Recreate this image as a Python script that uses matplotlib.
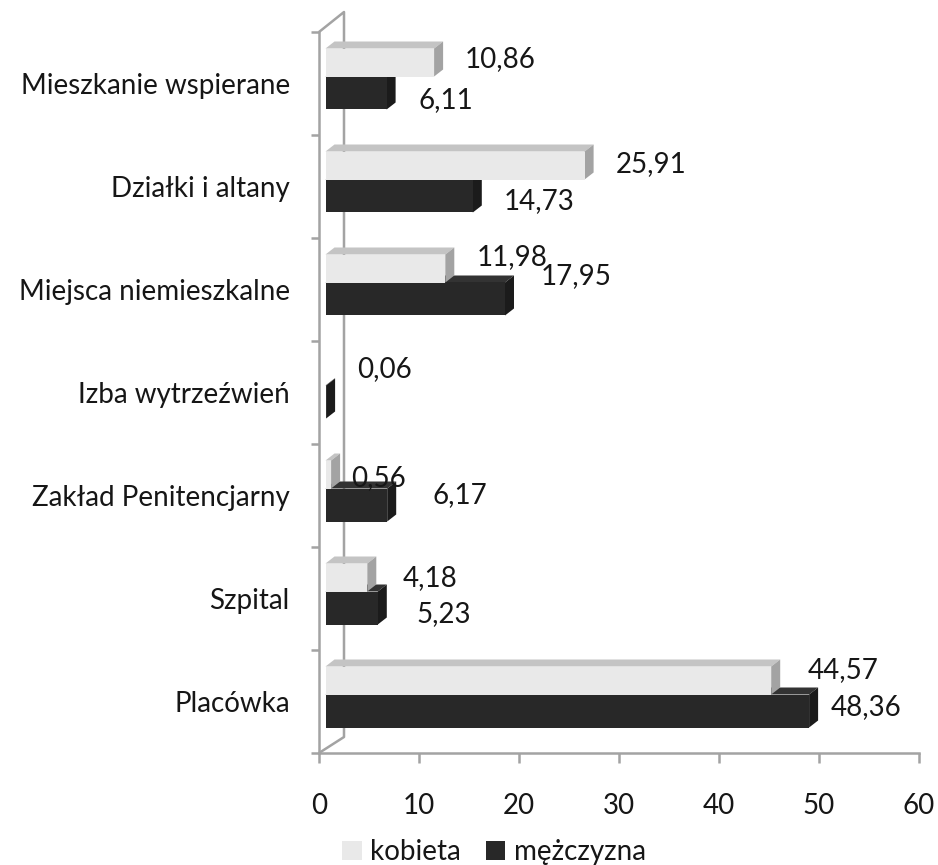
import numpy as np
import matplotlib
matplotlib.use("Agg")
import matplotlib.pyplot as plt
from matplotlib.patches import Polygon, Patch

plt.rcParams['font.family'] = ['Lato', 'DejaVu Sans']

# ---------------- data (bottom to top) ----------------
categories = ['Placówka', 'Szpital', 'Zakład Penitencjarny', 'Izba wytrzeźwień',
              'Miejsca niemieszkalne', 'Działki i altany', 'Mieszkanie wspierane']
kobieta = [44.57, 4.18, 0.56, None, 11.98, 25.91, 10.86]
mezczyzna = [48.36, 5.23, 6.17, 0.06, 17.95, 14.73, 6.11]
series_names = ['kobieta', 'mężczyzna']
x_ticks = [0, 10, 20, 30, 40, 50, 60]

# label nudges (pixels: right, up) relative to bar end, mimicking Excel placement
kob_label_off = [(36, 12), (35, 1.5), (20, -1.5), (0, 0), (31, 13.5), (31, 3), (31, 5)]
mez_label_off = [(22, 5.5), (39, -4), (45, 12), (31, 35), (36, 25), (31, -3), (32, -5.5)]

# ---------------- style ----------------
W, H = 938, 865
FS = 20
TXT = '#161616'
AX_C = '#a3a3a3'
light = dict(front='#e9e9e9', top='#c4c4c4', side='#a3a3a3')
dark = dict(front='#282828', top='#333333', side='#1b1b1b')

fig = plt.figure(figsize=(W / 100, H / 100), dpi=100)
ax = fig.add_axes([319 / W, (H - 753) / H, 600 / W, 721 / H])
ax.set_xlim(0, 60)
ax.set_ylim(0, len(categories))

px_x = 60 / 600.0                 # data units per pixel (x)
px_y = len(categories) / 721.0    # data units per pixel (y)

# 3D geometry (in pixels)
x0 = 6.5 * px_x            # bars start slightly inside the wall
grp_shift = 7 * px_y
h_light = 28 * px_y
h_dark = 33 * px_y
ddx, ddy = 9 * px_x, 7 * px_y

centers = np.arange(len(categories)) + 0.5
kob = np.array([np.nan if v is None else v for v in kobieta], dtype=float)
mez = np.array(mezczyzna, dtype=float)


def draw_3d(vals, ycent, height, cols, z):
    idx = np.where(np.isfinite(vals))[0]
    bars = ax.barh(ycent[idx], vals[idx], left=x0, height=height,
                   color=cols['front'], edgecolor='none', zorder=z + 0.2)
    for rect in bars:
        x, y, w, h = rect.get_x(), rect.get_y(), rect.get_width(), rect.get_height()
        top = Polygon([(x, y + h), (x + ddx, y + h + ddy), (x + w + ddx, y + h + ddy), (x + w, y + h)],
                      closed=True, facecolor=cols['top'], edgecolor='none', zorder=z)
        side = Polygon([(x + w, y), (x + w + ddx, y + ddy), (x + w + ddx, y + h + ddy), (x + w, y + h)],
                       closed=True, facecolor=cols['side'], edgecolor='none', zorder=z + 0.1)
        ax.add_patch(top)
        ax.add_patch(side)
    return idx


# dark series below light series in each group, drawn first
yc_dark = centers + grp_shift - h_dark / 2
yc_light = centers + grp_shift + h_light / 2
idx_m = draw_3d(mez, yc_dark, h_dark, dark, 2)
idx_k = draw_3d(kob, yc_light, h_light, light, 3)


def fmt(v):
    return f"{v:.2f}".replace('.', ',')


half_digit = 10
for i in idx_k:
    dx, dy = kob_label_off[i]
    ax.annotate(fmt(kob[i]), xy=(x0 + kob[i], yc_light[i]), xytext=(dx, dy - half_digit),
                textcoords='offset pixels', ha='left', va='baseline',
                fontsize=FS, color=TXT, zorder=6, annotation_clip=False)
for i in idx_m:
    dx, dy = mez_label_off[i]
    ax.annotate(fmt(mez[i]), xy=(x0 + mez[i], yc_dark[i]), xytext=(dx, dy - half_digit),
                textcoords='offset pixels', ha='left', va='baseline',
                fontsize=FS, color=TXT, zorder=6, annotation_clip=False)

# back wall outline (3D side wall)
wall_dx = 25 * px_x
ax.plot([0, wall_dx, wall_dx, 0], [0, 16 * px_y, len(categories) + 20 * px_y, len(categories)],
        color=AX_C, lw=1.8, clip_on=False, zorder=1, solid_capstyle='butt')

# axes / spines
for s in ['top', 'right']:
    ax.spines[s].set_visible(False)
for s in ['left', 'bottom']:
    ax.spines[s].set_color(AX_C)
    ax.spines[s].set_linewidth(1.8)
    ax.spines[s].set_zorder(1)

ax.set_xticks(x_ticks)
ax.set_xticklabels([str(t) for t in x_ticks])
ax.tick_params(axis='x', direction='out', length=7.5, width=1.8, color=AX_C,
               pad=21, labelsize=FS, labelcolor=TXT)

ax.set_yticks(centers)
ax.set_yticklabels(categories)
ax.set_yticks(np.arange(len(categories) + 1), minor=True)
ax.tick_params(axis='y', which='major', length=0, pad=21, labelsize=FS, labelcolor=TXT)
ax.tick_params(axis='y', which='minor', direction='out', length=6, width=1.8, color=AX_C)
ax.patch.set_visible(False)

# legend
handles = [Patch(facecolor=light['front'], edgecolor='none'),
           Patch(facecolor=dark['front'], edgecolor='none')]
fig.legend(handles, series_names, loc='center', bbox_to_anchor=(494 / W, 1 - 852 / H),
           ncol=2, frameon=False, fontsize=FS, handlelength=0.7, handleheight=0.7,
           handletextpad=0.3, columnspacing=0.9, labelcolor=TXT, borderaxespad=0)

fig.savefig('out.png', dpi=100)
